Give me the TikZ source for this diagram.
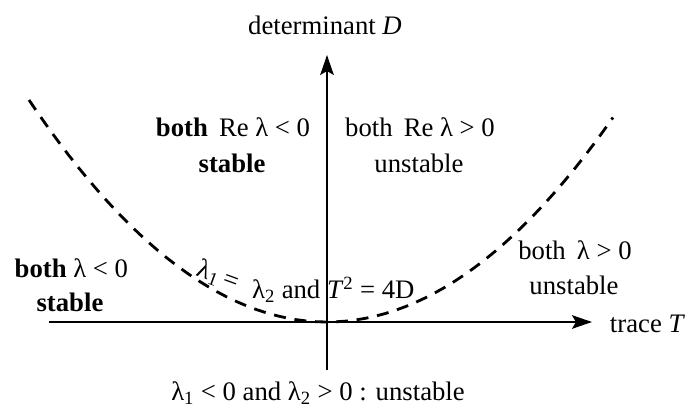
\documentclass[tikz,border=0pt]{standalone}
\usepackage{fontspec}
\setmainfont{Liberation Serif}
\usepackage{tikz}
\usetikzlibrary{arrows.meta}

\tikzset{
  axis/.style={line width=1.3pt, -{Stealth[length=0.5cm, width=0.34cm, inset=0.1cm]}},
  borderline/.style={line width=2pt, dash pattern=on 0.3cm off 0.22cm},
  region/.style={font=\fontsize{19}{22}\selectfont, inner sep=1pt},
}

\begin{document}
\begin{tikzpicture}[font=\fontsize{19}{22}\selectfont]
  \useasboundingbox (-8.175,-2.2) rectangle (8.95,8.05);

  % Axes
  \coordinate (west) at (-6.95,0);
  \coordinate (east) at (6.625,0);
  \coordinate (south) at (0,-1.2);
  \coordinate (north) at (0,6.675);
  \draw[axis] (west) -- (east);
  \draw[axis] (south) -- (north);
  \node[anchor=west] (traceT) at (6.95,-0.05) {trace \textit{T}};
  \node (detD) at (-0.05,7.42) {determinant \textit{D}};

  % Parabola T^2 = 4D
  \draw[borderline] plot[domain=-7.45:7.15, samples=60] (\x,{0.1*\x*\x});
  \node[rotate=-20, inner sep=0pt] (lblA) at (-2.72,1.15) {λ\textsubscript{1}\,=};
  \node[anchor=west, inner sep=0pt] (lblB) at (-1.88,0.8) {λ\textsubscript{2} and \textit{T}\textsuperscript{2} = 4D};

  % Regions above
  \node[region] (nwA) at (-2.35,4.87) {\textbf{both}\, Re λ < 0};
  \node[region] (nwB) at (-2.375,3.97) {\textbf{stable}};
  \node[region] (neA) at (2.325,4.87) {both\, Re λ > 0};
  \node[region] (neB) at (2.3,3.97) {unstable};

  % Regions beside the parabola
  \node[region] (wA) at (-6.39,1.35) {\textbf{both} λ < 0};
  \node[region] (wB) at (-6.425,0.5) {\textbf{stable}};
  \node[region] (eA) at (6.2,1.8) {both\, λ > 0};
  \node[region] (eB) at (6.175,0.92) {unstable};

  % Below the axis
  \node[region] (saddle) at (-0.225,-1.78) {λ\textsubscript{1} < 0 and λ\textsubscript{2} > 0 : unstable};
\end{tikzpicture}
\end{document}
